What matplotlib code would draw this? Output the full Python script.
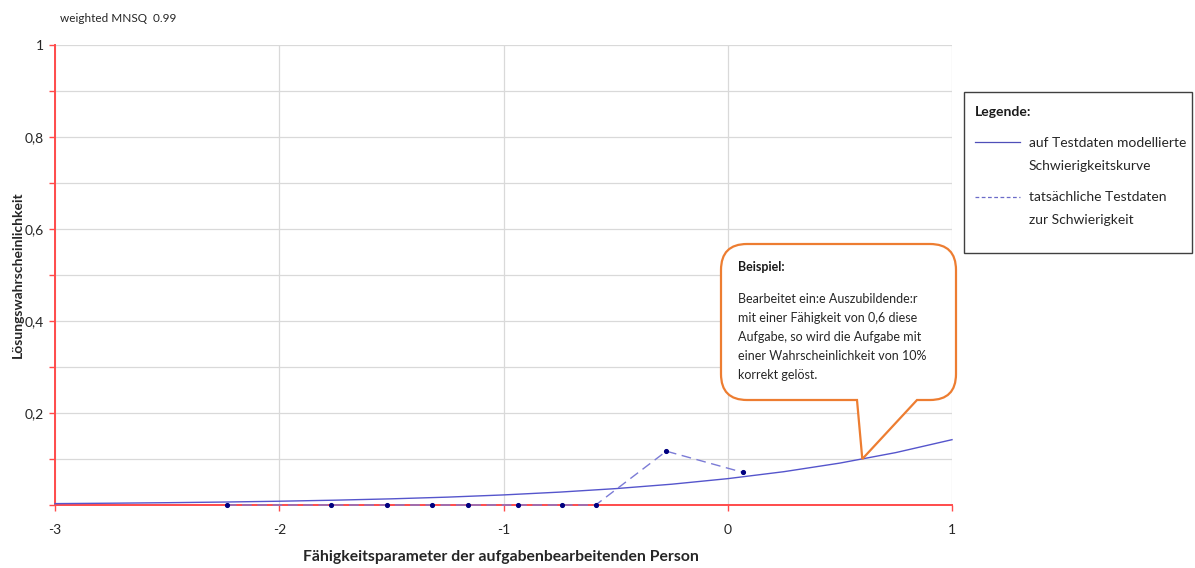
import matplotlib
matplotlib.use("Agg")
import matplotlib.pyplot as plt
from matplotlib.path import Path
from matplotlib.patches import PathPatch, Rectangle
from matplotlib.ticker import MultipleLocator

plt.rcParams['font.family'] = ['Lato', 'DejaVu Sans']

# ---- data ----
curve_x = [-3.0, -2.75, -2.5, -2.25, -2.0, -1.75, -1.5, -1.25, -1.0, -0.75,
           -0.5, -0.25, 0.0, 0.25, 0.5, 0.75, 1.0]
curve_p = [0.0030, 0.0039, 0.0050, 0.0064, 0.0082, 0.0105, 0.0134, 0.0171,
           0.0219, 0.0280, 0.0356, 0.0452, 0.0573, 0.0724, 0.0911, 0.1140, 0.1420]

obs_x = [-2.234, -1.769, -1.518, -1.317, -1.158, -0.934, -0.739, -0.589, -0.274, 0.067]
obs_p = [0.0, 0.0, 0.0, 0.0, 0.0, 0.0, 0.0, 0.0, 0.117, 0.071]

x_ticks = [-3, -2, -1, 0, 1]
x_tick_labels = ['-3', '-2', '-1', '0', '1']
y_ticks = [0.2, 0.4, 0.6, 0.8, 1.0]
y_tick_labels = ['0,2', '0,4', '0,6', '0,8', '1']

example_x = 0.6
example_p = 0.10

title_text = 'weighted MNSQ  0.99'
x_label = 'Fähigkeitsparameter der aufgabenbearbeitenden Person'
y_label = 'Lösungswahrscheinlichkeit'
legend_title = 'Legende:'
legend_model = ['auf Testdaten modellierte', 'Schwierigkeitskurve']
legend_obs = ['tatsächliche Testdaten', 'zur Schwierigkeit']
callout_title = 'Beispiel:'
callout_lines = ['Bearbeitet ein:e Auszubildende:r',
                 'mit einer Fähigkeit von 0,6 diese',
                 'Aufgabe, so wird die Aufgabe mit',
                 'einer Wahrscheinlichkeit von 10%',
                 'korrekt gelöst.']

# ---- figure ----
W, H = 1195, 568
fig = plt.figure(figsize=(W / 100, H / 100), dpi=100)
fig.patch.set_facecolor('white')

ax = fig.add_axes([55 / W, 1 - 505 / H, (952 - 55) / W, (505 - 45) / H])
ax.set_xlim(-3, 1)
ax.set_ylim(0, 1)

red = '#FF4B4B'
grid_c = '#D9D9D9'

ax.set_xticks(x_ticks)
ax.set_xticklabels(x_tick_labels, fontsize=10, color='#262626')
ax.set_yticks(y_ticks)
ax.set_yticklabels(y_tick_labels, fontsize=10, color='#262626')
ax.yaxis.set_minor_locator(MultipleLocator(0.1))

ax.grid(True, which='major', axis='x', color=grid_c, lw=0.9)
ax.grid(True, which='both', axis='y', color=grid_c, lw=0.9)
ax.set_axisbelow(True)

for s in ['top', 'right']:
    ax.spines[s].set_visible(False)
for s in ['left', 'bottom']:
    ax.spines[s].set_color(red)
    ax.spines[s].set_linewidth(1.4)
    ax.spines[s].set_zorder(1)

ax.tick_params(axis='both', which='both', color=red, direction='out', length=4, width=1)
ax.tick_params(axis='x', pad=10)
ax.tick_params(axis='y', pad=4)

ax.plot(curve_x, curve_p, color='#5555CC', lw=1.0, zorder=4, clip_on=False)
ax.plot(obs_x, obs_p, color='#7B7BD6', lw=1.0, dashes=(7, 4), zorder=5, clip_on=False)
ax.plot(obs_x, obs_p, ls='none', marker='o', ms=2.7, color='#000080', zorder=6, clip_on=False)

fig.text(60 / W, 1 - 19 / H, title_text, fontsize=8.5, va='center', ha='left', color='#262626')
fig.text(18 / W, 1 - 275 / H, y_label, fontsize=10, fontweight='bold', rotation=90,
         va='center', ha='center', color='#262626')
fig.text(501 / W, 1 - 557 / H, x_label, fontsize=11.3, fontweight='bold',
         va='center', ha='center', color='#262626')

# overlay in pixel coordinates
ov = fig.add_axes([0, 0, 1, 1], zorder=10)
ov.set_xlim(0, W)
ov.set_ylim(H, 0)
ov.axis('off')
ov.patch.set_alpha(0)

# legend box
ov.add_patch(Rectangle((964, 92), 228, 161, fill=False, edgecolor='#404040', lw=1.0))
ov.text(975, 112, legend_title, fontsize=10, fontweight='bold', va='center', ha='left', color='#1a1a1a')
ov.plot([975, 1020], [142, 142], color='#4F4FB8', lw=0.9)
ov.text(1029, 143, legend_model[0], fontsize=10, va='center', ha='left', color='#262626')
ov.text(1029, 166, legend_model[1], fontsize=10, va='center', ha='left', color='#262626')
ov.plot([975, 1020], [197, 197], color='#6B6BC8', lw=0.9, dashes=(3, 2))
ov.text(1029, 197, legend_obs[0], fontsize=10, va='center', ha='left', color='#262626')
ov.text(1029, 220, legend_obs[1], fontsize=10, va='center', ha='left', color='#262626')

# callout with tail pointing to the example point on the curve
tx, ty = ax.transData.transform((example_x, example_p))
ty = H - ty
L, R, T, B, r = 721, 956, 244, 400, 26
tb1, tb2 = 857, 917
verts = [(L + r, T), (R - r, T), (R, T), (R, T + r), (R, B - r), (R, B), (R - r, B),
         (tb2, B), (tx, ty), (tb1, B), (L + r, B), (L, B), (L, B - r), (L, T + r),
         (L, T), (L + r, T), (L + r, T)]
codes = [Path.MOVETO, Path.LINETO, Path.CURVE3, Path.CURVE3, Path.LINETO, Path.CURVE3,
         Path.CURVE3, Path.LINETO, Path.LINETO, Path.LINETO, Path.LINETO, Path.CURVE3,
         Path.CURVE3, Path.LINETO, Path.CURVE3, Path.CURVE3, Path.CLOSEPOLY]
ov.add_patch(PathPatch(Path(verts, codes), facecolor='white', edgecolor='#ED7D31',
                       lw=1.6, joinstyle='miter'))
ov.text(738, 267, callout_title, fontsize=9, fontweight='bold', va='center', ha='left', color='#1a1a1a')
for i, line in enumerate(callout_lines):
    ov.text(738, 299 + i * 19.0, line, fontsize=9, va='center', ha='left', color='#262626')

fig.savefig('out.png', dpi=100)
